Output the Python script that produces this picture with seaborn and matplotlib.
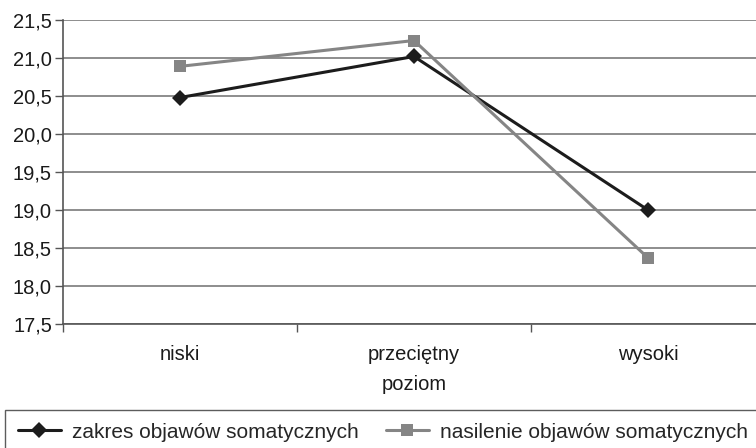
import matplotlib
matplotlib.use("Agg")
import matplotlib.pyplot as plt
import seaborn as sns
import pandas as pd
from matplotlib.ticker import FixedLocator, FuncFormatter

categories = ["niski", "przeciętny", "wysoki"]
zakres = [20.48, 21.02, 19.00]
nasilenie = [20.89, 21.23, 18.37]
series_names = ["zakres objawów somatycznych", "nasilenie objawów somatycznych"]
y_ticks = [17.5, 18.0, 18.5, 19.0, 19.5, 20.0, 20.5, 21.0, 21.5]

df = pd.DataFrame({
    "x": list(range(len(categories))) * 2,
    "value": zakres + nasilenie,
    "series": [series_names[0]] * 3 + [series_names[1]] * 3,
})

sns.set_style("white")
plt.rcParams["font.family"] = ["Liberation Sans", "DejaVu Sans"]

fig = plt.figure(figsize=(7.56, 4.48), dpi=100)
ax = fig.add_axes([63 / 756, 1 - 324 / 448, (765 - 63) / 756, (324 - 20) / 448])

sns.lineplot(data=df, x="x", y="value", hue="series", style="series",
             palette={series_names[0]: "#1c1c1c", series_names[1]: "#858585"},
             markers={series_names[0]: "D", series_names[1]: "s"},
             dashes=False, linewidth=2.2, markersize=8, markeredgewidth=0,
             ax=ax, legend=True)

ax.set_xlim(-0.5, 2.5)
ax.set_ylim(17.5, 21.5)
ax.set_yticks(y_ticks)
ax.yaxis.set_major_formatter(FuncFormatter(lambda v, p: f"{v:.1f}".replace(".", ",")))
ax.grid(axis="y", color="#7a7a7a", linewidth=1.2)
ax.set_axisbelow(True)

ax.xaxis.set_major_locator(FixedLocator([-0.5, 0.5, 1.5, 2.5]))
ax.xaxis.set_minor_locator(FixedLocator([0, 1, 2]))
ax.set_xticklabels([])
ax.set_xticklabels(categories, minor=True)
ax.tick_params(axis="x", which="major", length=6, width=1, color="#555555", direction="out", bottom=True)
ax.tick_params(axis="x", which="minor", length=0, labelsize=14.5, pad=15, colors="#1a1a1a")
ax.tick_params(axis="y", length=6, width=1, color="#555555", direction="out", left=True, labelsize=14.5, labelcolor="#1a1a1a", pad=2)

for s in ["top", "right"]:
    ax.spines[s].set_visible(False)
ax.spines["left"].set_color("#555555")
ax.spines["bottom"].set_color("#555555")
ax.spines["left"].set_linewidth(1.2)
ax.spines["bottom"].set_linewidth(1.2)

ax.set_xlabel("poziom", fontsize=14.5, color="#1a1a1a", labelpad=8)
ax.set_ylabel("")

handles, labels = ax.get_legend_handles_labels()
ax.get_legend().remove()
leg = fig.legend(handles, labels, loc="lower left", bbox_to_anchor=(5 / 756, -6 / 448),
                 ncol=2, fontsize=15, frameon=True, fancybox=False,
                 handlelength=2.1, handletextpad=0.5, columnspacing=1.3,
                 borderpad=0.6, borderaxespad=0)
leg.get_frame().set_edgecolor("#333333")
leg.get_frame().set_linewidth(1.0)

fig.savefig("out.png", dpi=100)
